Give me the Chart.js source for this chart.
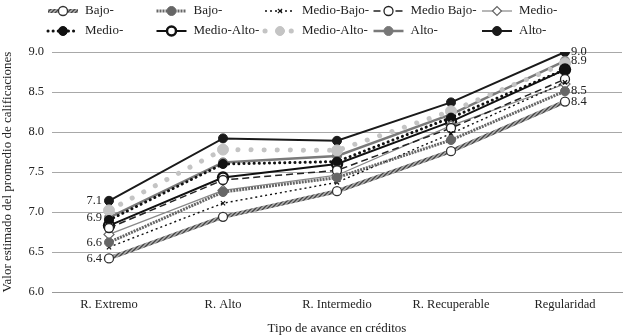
<!DOCTYPE html>
<html>
<head>
<meta charset="utf-8">
<script src="https://cdn.jsdelivr.net/npm/chart.js@4/dist/chart.umd.min.js"></script>
<style>
  html, body { margin: 0; padding: 0; background: #fff; }
  #wrap { width: 631px; height: 336px; }
</style>
</head>
<body>
<div id="wrap"><canvas id="myChart" width="631" height="336"></canvas></div>
<script>
// datos
const categories = ['R. Extremo', 'R. Alto', 'R. Intermedio', 'R. Recuperable', 'Regularidad'];
const seriesNames = ['Bajo-', 'Bajo-', 'Medio-Bajo-', 'Medio Bajo-', 'Medio-', 'Medio-', 'Medio-Alto-', 'Medio-Alto-', 'Alto-', 'Alto-'];
const bajoA      = [6.42, 6.94, 7.26, 7.76, 8.38];
const bajoB      = [6.62, 7.25, 7.43, 7.90, 8.51];
const medioBajoA = [6.56, 7.11, 7.37, 7.98, 8.62];
const medioBajoB = [6.80, 7.40, 7.52, 8.05, 8.66];
const medioA     = [6.72, 7.27, 7.46, 8.08, 8.60];
const medioB     = [6.90, 7.60, 7.63, 8.18, 8.78];
const medioAltoA = [6.83, 7.43, 7.60, 8.13, 8.78];
const medioAltoB = [7.02, 7.78, 7.77, 8.26, 8.86];
const altoA      = [6.93, 7.62, 7.70, 8.22, 8.89];
const altoB      = [7.14, 7.92, 7.89, 8.37, 9.00];
const yTicks = [6.0, 6.5, 7.0, 7.5, 8.0, 8.5, 9.0];
// series con etiquetas de valor en los extremos
const labeledSeries = [0, 1, 8, 9];

const FONT = '"Liberation Serif", "DejaVu Serif", serif';

// patron rayado para la linea "Bajo-"
function hatch() {
  const c = document.createElement('canvas');
  c.width = 4; c.height = 4;
  const g = c.getContext('2d');
  g.fillStyle = '#b0b0b0';
  g.fillRect(0, 0, 4, 4);
  g.strokeStyle = '#444';
  g.lineWidth = 1.3;
  g.beginPath();
  g.moveTo(0, 4); g.lineTo(4, 0);
  g.moveTo(-1, 1); g.lineTo(1, -1);
  g.moveTo(3, 5); g.lineTo(5, 3);
  g.stroke();
  return g.createPattern(c, 'repeat');
}
const hatchPattern = hatch();

const styles = [
  { borderColor: hatchPattern, borderWidth: 4, pointStyle: 'circle', pointRadius: 4.5, pointBackgroundColor: '#fff', pointBorderColor: '#333', pointBorderWidth: 1.3 },
  { borderColor: '#666', borderWidth: 3, borderDash: [2, 1], pointStyle: 'circle', pointRadius: 4.5, pointBackgroundColor: '#666', pointBorderColor: '#666', pointBorderWidth: 1 },
  { borderColor: '#111', borderWidth: 1.4, borderDash: [2, 3], pointStyle: 'crossRot', pointRadius: 3, pointBackgroundColor: '#111', pointBorderColor: '#111', pointBorderWidth: 1.2 },
  { borderColor: '#222', borderWidth: 1.5, borderDash: [7, 4], pointStyle: 'circle', pointRadius: 4.5, pointBackgroundColor: '#fff', pointBorderColor: '#222', pointBorderWidth: 1.3 },
  { borderColor: '#888', borderWidth: 1.2, pointStyle: 'rectRot', pointRadius: 5, pointBackgroundColor: '#fff', pointBorderColor: '#666', pointBorderWidth: 1.2 },
  { borderColor: '#111', borderWidth: 3, borderDash: [0.1, 5], borderCapStyle: 'round', pointStyle: 'circle', pointRadius: 4.5, pointBackgroundColor: '#111', pointBorderColor: '#111', pointBorderWidth: 1 },
  { borderColor: '#111', borderWidth: 2, pointStyle: 'circle', pointRadius: 5, pointBackgroundColor: '#fff', pointBorderColor: '#111', pointBorderWidth: 2.5 },
  { borderColor: '#c4c4c4', borderWidth: 5, borderDash: [0.1, 13], borderCapStyle: 'round', pointStyle: 'circle', pointRadius: 5.5, pointBackgroundColor: '#c4c4c4', pointBorderColor: '#c4c4c4', pointBorderWidth: 1 },
  { borderColor: '#7a7a7a', borderWidth: 2.5, pointStyle: 'circle', pointRadius: 4.5, pointBackgroundColor: '#777', pointBorderColor: '#777', pointBorderWidth: 1 },
  { borderColor: '#1a1a1a', borderWidth: 2, pointStyle: 'circle', pointRadius: 4.5, pointBackgroundColor: '#1a1a1a', pointBorderColor: '#1a1a1a', pointBorderWidth: 1 }
];
const allData = [bajoA, bajoB, medioBajoA, medioBajoB, medioA, medioB, medioAltoA, medioAltoB, altoA, altoB];

const datasets = allData.map((d, i) => Object.assign({
  label: seriesNames[i],
  data: d,
  fill: false,
  tension: 0,
  pointHoverRadius: 5
}, styles[i]));

// leyenda en cuadricula 5 x 2
const gridLegend = {
  id: 'gridLegend',
  afterDraw(chart) {
    const ctx = chart.ctx;
    ctx.save();
    chart.data.datasets.forEach((ds, i) => {
      const col = i % 5, row = Math.floor(i / 5);
      const x0 = 48 + col * 108.5;
      const y = row === 0 ? 11 : 31;
      ctx.save();
      ctx.strokeStyle = ds.borderColor;
      ctx.lineWidth = ds.borderWidth;
      ctx.lineCap = ds.borderCapStyle || 'butt';
      ctx.setLineDash(ds.borderDash || []);
      ctx.beginPath();
      ctx.moveTo(x0, y);
      ctx.lineTo(x0 + 30, y);
      ctx.stroke();
      ctx.setLineDash([]);
      ctx.fillStyle = ds.pointBackgroundColor;
      ctx.strokeStyle = ds.pointBorderColor;
      ctx.lineWidth = ds.pointBorderWidth;
      Chart.helpers.drawPoint(ctx, { pointStyle: ds.pointStyle, radius: Math.min(ds.pointRadius, 4.5), rotation: 0, borderWidth: ds.pointBorderWidth }, x0 + 15, y);
      ctx.restore();
      ctx.fillStyle = '#222';
      ctx.font = '13px ' + FONT;
      ctx.textBaseline = 'middle';
      ctx.textAlign = 'left';
      ctx.fillText(ds.label, x0 + 37, y);
    });
    ctx.restore();
  }
};

// etiquetas de valor a la izquierda y derecha
const endLabels = {
  id: 'endLabels',
  afterDatasetsDraw(chart) {
    const ctx = chart.ctx;
    ctx.save();
    ctx.font = '12.5px ' + FONT;
    ctx.fillStyle = '#222';
    ctx.textBaseline = 'middle';
    labeledSeries.forEach(i => {
      const meta = chart.getDatasetMeta(i);
      const pts = meta.data;
      const d = chart.data.datasets[i].data;
      const first = pts[0], last = pts[pts.length - 1];
      ctx.textAlign = 'right';
      ctx.fillText(d[0].toFixed(1), first.x - 7, first.y);
      ctx.textAlign = 'left';
      ctx.fillText(d[d.length - 1].toFixed(1), last.x + 6, last.y);
    });
    ctx.restore();
  }
};

const canvas = document.getElementById('myChart');
const ctx = canvas.getContext('2d');

new Chart(ctx, {
  type: 'line',
  data: { labels: categories, datasets: datasets },
  plugins: [gridLegend, endLabels],
  options: {
    responsive: false,
    animation: false,
    layout: { padding: { top: 52, right: 9, left: 0, bottom: 0 } },
    plugins: {
      legend: { display: false },
      tooltip: { enabled: false }
    },
    scales: {
      x: {
        offset: true,
        grid: { display: false, drawTicks: false },
        border: { display: true, color: '#999', width: 1 },
        ticks: { color: '#222', font: { family: FONT, size: 12.5 }, padding: 5 },
        title: { display: true, text: 'Tipo de avance en créditos', color: '#222', font: { family: FONT, size: 13 }, padding: { top: 6, bottom: 0 } },
        afterFit(scale) { scale.height = 44; }
      },
      y: {
        min: 6,
        max: 9,
        afterBuildTicks(scale) { scale.ticks = yTicks.map(v => ({ value: v })); },
        grid: { color: '#a8a8a8', lineWidth: 1, drawTicks: false },
        border: { display: false },
        ticks: {
          color: '#222',
          font: { family: FONT, size: 12.5 },
          padding: 8,
          callback: v => Number(v).toFixed(1)
        },
        title: { display: true, text: 'Valor estimado del promedio de calificaciones', color: '#222', font: { family: FONT, size: 13 }, padding: { top: 0, bottom: 2 } },
        afterFit(scale) { scale.width = 52; }
      }
    }
  }
});
</script>
</body>
</html>
